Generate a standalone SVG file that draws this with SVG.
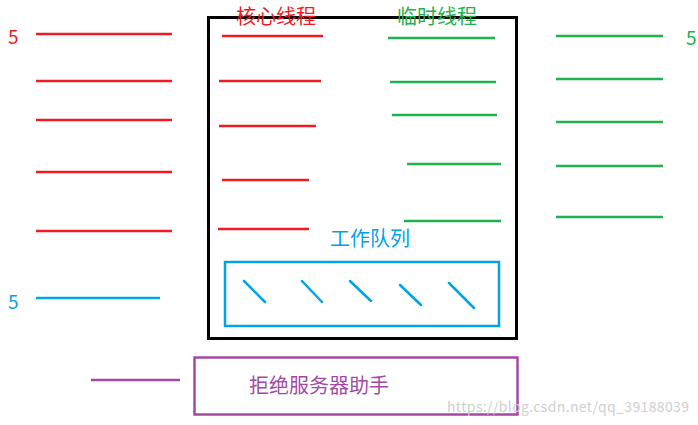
<svg xmlns="http://www.w3.org/2000/svg" width="698" height="425" viewBox="0 0 698 425">
<style>
text{font-family:"Noto Sans CJK SC","Liberation Sans",sans-serif}
.r{stroke:#ED1C24;stroke-width:2.5;fill:none}
.g{stroke:#22B14C;stroke-width:2.5;fill:none}
.b{stroke:#00A2E8;stroke-width:2.5;fill:none}
.p{stroke:#A349A4;stroke-width:2.5;fill:none}
.tr{fill:#ED1C24}.tg{fill:#22B14C}.tb{fill:#00A2E8}.tp{fill:#A349A4}
</style>
<rect width="698" height="425" fill="#fff"/>
<g id="pool">
<rect x="208.5" y="17.5" width="308" height="321" fill="none" stroke="#000" stroke-width="3"/>
</g>
<g id="core-label"><text x="236" y="24" font-size="20" class="tr">核心线程</text></g>
<g id="temp-label"><text x="397" y="24" font-size="20" class="tg">临时线程</text></g>
<g id="left-count"><text x="8" y="44" font-size="19" class="tr">5</text></g>
<g id="right-count"><text x="686" y="45" font-size="19" class="tg">5</text></g>
<g id="queue-count"><text x="8" y="309" font-size="19" class="tb">5</text></g>
<g id="connectors">
<path class="r" d="M36 34H172M36 81H172M36 120H172M36 172H172M36 231H172"/>
<path class="r" d="M222 36H323M219 81H321M219 126H316M222 180H309M218 229H309"/>
<path class="g" d="M388 38H495M390 82H496M392 115H497M407 164H501M404 221H501"/>
<path class="g" d="M556 36H663M556 79H663M556 122H663M556 166H663M556 217H663"/>
<path class="b" d="M36 298H160"/>
<path class="p" d="M91 380H180"/>
</g>
<g id="queue">
<text x="330" y="246" font-size="20" class="tb">工作队列</text>
<rect x="225" y="262" width="274" height="64" class="b" stroke-width="3"/>
<path class="b" stroke-linecap="round" d="M244 281L265 302M302 281L322 302M350 281L371 301M400 285L421 305M449 283L474 308"/>
</g>
<g id="reject">
<rect x="194.5" y="357.5" width="323" height="57" class="p"/>
<text x="249" y="393" font-size="20" class="tp">拒绝服务器助手</text>
</g>
<text x="447" y="412" font-size="14" fill="#cfcfcf" font-family="Liberation Sans,sans-serif" textLength="242">https://blog.csdn.net/qq_39188039</text>
</svg>
